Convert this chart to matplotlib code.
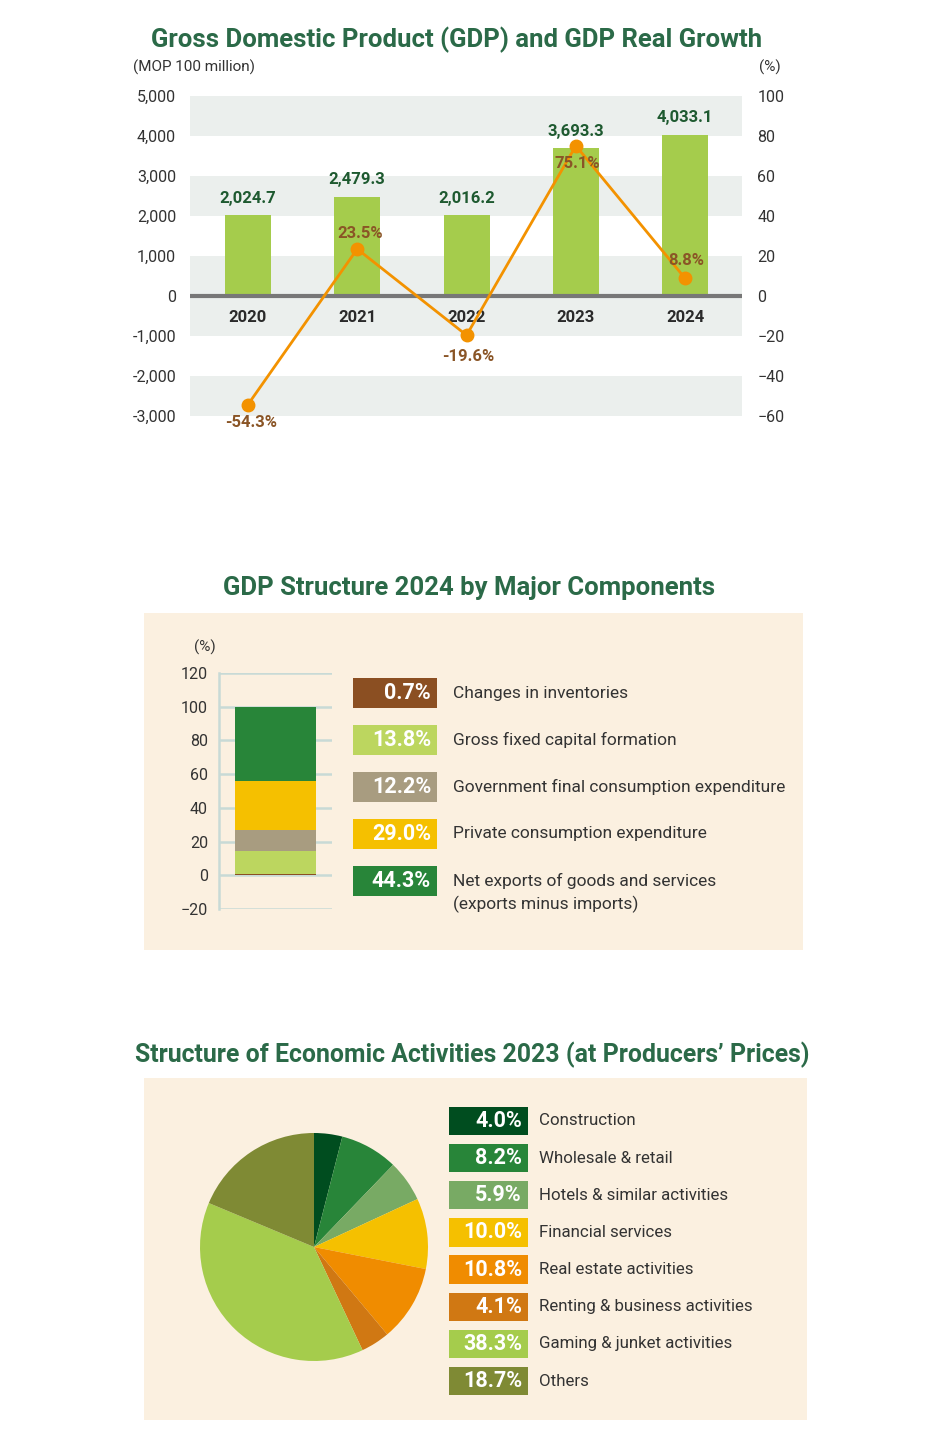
import matplotlib
matplotlib.use("Agg")
import matplotlib.pyplot as plt
from matplotlib.patches import Rectangle
from matplotlib.ticker import FuncFormatter

plt.rcParams['font.family'] = ['Roboto', 'DejaVu Sans']

# ---------------- data ----------------
years = ['2020', '2021', '2022', '2023', '2024']
gdp = [2024.7, 2479.3, 2016.2, 3693.3, 4033.1]
growth = [-54.3, 23.5, -19.6, 75.1, 8.8]
gdp_ticks = [-3000, -2000, -1000, 0, 1000, 2000, 3000, 4000, 5000]
growth_ticks = [-60, -40, -20, 0, 20, 40, 60, 80, 100]

comp_labels = ['Changes in inventories', 'Gross fixed capital formation',
               'Government final consumption expenditure',
               'Private consumption expenditure',
               'Net exports of goods and services\n(exports minus imports)']
comp_values = [0.7, 13.8, 12.2, 29.0, 44.3]
comp_ticks = [-20, 0, 20, 40, 60, 80, 100, 120]

act_labels = ['Construction', 'Wholesale & retail', 'Hotels & similar activities',
              'Financial services', 'Real estate activities',
              'Renting & business activities', 'Gaming & junket activities', 'Others']
act_values = [4.0, 8.2, 5.9, 10.0, 10.8, 4.1, 38.3, 18.7]

# ---------------- style ----------------
W, H = 950, 1431
TITLE_C = '#2b6a48'
TXT = '#333333'
BAR_C = '#a5cc4c'
LINE_C = '#f39200'
VAL_C = '#1e5a30'
PCT_C = '#8a5526'
BAND_C = '#ebefed'
PANEL_C = '#fbf0e0'
GRID2_C = '#c8dad6'
comp_colors = ['#8b4f22', '#bcd65f', '#a89c80', '#f5c000', '#288539']
act_colors = ['#004d1f', '#288539', '#78aa64', '#f5c000', '#f08c00',
              '#d07813', '#a5cc4c', '#7f8a34']

fig = plt.figure(figsize=(W / 100, H / 100), dpi=100)
fig.patch.set_facecolor('white')


def add_ax(x0, y0, x1, y1, **kw):
    return fig.add_axes([x0 / W, 1 - y1 / H, (x1 - x0) / W, (y1 - y0) / H], **kw)


def ftext(x, y, s, **kw):
    return fig.text(x / W, 1 - y / H, s, **kw)


def panel(x0, y0, x1, y1):
    fig.patches.append(Rectangle((x0 / W, 1 - y1 / H), (x1 - x0) / W, (y1 - y0) / H,
                                 transform=fig.transFigure, facecolor=PANEL_C,
                                 edgecolor='none', zorder=-5))


PT = 0.72  # points per pixel

# ================= Chart 1 =================
ftext(457, 40, 'Gross Domestic Product (GDP) and GDP Real Growth', ha='center',
      va='center', fontsize=18.5, fontweight='bold', color=TITLE_C)
ftext(133, 67, '(MOP 100 million)', ha='left', va='center', fontsize=11, color=TXT)
ftext(770, 67, '(%)', ha='center', va='center', fontsize=11, color=TXT)

ax1 = add_ax(190, 96, 742, 416)
ax1.set_xlim(-0.53, 4.52)
ax1.set_ylim(gdp_ticks[0], gdp_ticks[-1])
for lo, hi in [(4000, 5000), (2000, 3000), (-1000, 1000), (-3000, -2000)]:
    ax1.axhspan(lo, hi, color=BAND_C, lw=0, zorder=0)
x = list(range(len(years)))
ax1.bar(x, gdp, width=0.42, color=BAR_C, zorder=2)
ax1.axhline(0, color='#777777', lw=3, zorder=3)
for spine in ax1.spines.values():
    spine.set_visible(False)
ax1.set_xticks([])
ax1.set_yticks(gdp_ticks)
ax1.yaxis.set_major_formatter(FuncFormatter(lambda v, p: f'{int(v):,}'))
ax1.tick_params(axis='y', length=0, pad=10, labelsize=11.5, labelcolor=TXT)
for i, (yr, v) in enumerate(zip(years, gdp)):
    ax1.annotate(yr, (i, 0), xytext=(0, -21 * PT), textcoords='offset points',
                 ha='center', va='center', fontsize=12, fontweight='bold',
                 color='#2a2a2a', zorder=6)
    ax1.annotate(f'{v:,.1f}', (i, v), xytext=(0, 17 * PT), textcoords='offset points',
                 ha='center', va='center', fontsize=12, fontweight='bold',
                 color=VAL_C, zorder=6)

ax1r = ax1.twinx()
ax1r.set_ylim(growth_ticks[0], growth_ticks[-1])
ax1r.set_yticks(growth_ticks)
ax1r.tick_params(axis='y', length=0, pad=11, labelsize=11.5, labelcolor=TXT)
for spine in ax1r.spines.values():
    spine.set_visible(False)
ax1r.plot(x, growth, color=LINE_C, lw=2, marker='o', markersize=9, zorder=5)
pct_off = [(3, -18), (3, 16), (2, -21), (1, -18), (1, 18)]
for i, (g, off) in enumerate(zip(growth, pct_off)):
    ax1r.annotate(f'{g:.1f}%', (i, g), xytext=(off[0] * PT, off[1] * PT),
                  textcoords='offset points', ha='center', va='center',
                  fontsize=12, fontweight='bold', color=PCT_C, zorder=7)

# ================= Chart 2 =================
ftext(469, 588, 'GDP Structure 2024 by Major Components', ha='center', va='center',
      fontsize=18.5, fontweight='bold', color=TITLE_C)
panel(144, 613, 803, 950)
ftext(205, 647, '(%)', ha='center', va='center', fontsize=11, color=TXT)

ax2 = add_ax(219, 673, 332, 909)
ax2.set_facecolor('none')
ax2.set_xlim(0, 1)
ax2.set_ylim(comp_ticks[0], comp_ticks[-1])
for t in comp_ticks:
    ax2.axhline(t, color=GRID2_C, lw=1.8, zorder=1)
for side in ['top', 'right', 'bottom']:
    ax2.spines[side].set_visible(False)
ax2.spines['left'].set_color(GRID2_C)
ax2.spines['left'].set_linewidth(1.8)
ax2.set_xticks([])
ax2.set_yticks(comp_ticks)
ax2.tick_params(axis='y', length=0, pad=8, labelsize=11.5, labelcolor=TXT)
bottom = 0
for v, c in zip(comp_values, comp_colors):
    ax2.bar(0.5, v, bottom=bottom, width=0.717, color=c, zorder=3)
    bottom += v

lg2 = add_ax(353, 670, 800, 904)
lg2.set_xlim(0, 447)
lg2.set_ylim(len(comp_values) - 0.5, -0.5)
lg2.axis('off')
for i, (lab, v, c) in enumerate(zip(comp_labels, comp_values, comp_colors)):
    lg2.add_patch(Rectangle((0, i - 0.32), 84, 0.64, facecolor=c, edgecolor='none'))
    lg2.text(78, i, f'{v:.1f}%', ha='right', va='center', fontsize=15.5,
             fontweight='bold', color='white')
    for k, line in enumerate(lab.split('\n')):
        lg2.text(100, i + k * 0.5, line, ha='left', va='center', fontsize=12.5,
                 color=TXT)

# ================= Chart 3 =================
ftext(472, 1055, 'Structure of Economic Activities 2023 (at Producers\u2019 Prices)',
      ha='center', va='center', fontsize=17.9, fontweight='bold', color=TITLE_C)
panel(144, 1078, 807, 1420)

ax3 = add_ax(200, 1133, 428, 1361)
ax3.pie(act_values, colors=act_colors, startangle=90, counterclock=False,
        radius=1, wedgeprops=dict(linewidth=0))
ax3.set_xlim(-1, 1)
ax3.set_ylim(-1, 1)
ax3.set_aspect('equal')
ax3.axis('off')

lg3 = add_ax(449, 1102.4, 800, 1399.6)
lg3.set_xlim(0, 351)
lg3.set_ylim(len(act_values) - 0.5, -0.5)
lg3.axis('off')
for i, (lab, v, c) in enumerate(zip(act_labels, act_values, act_colors)):
    lg3.add_patch(Rectangle((0, i - 0.38), 79, 0.76, facecolor=c, edgecolor='none'))
    lg3.text(73, i, f'{v:.1f}%', ha='right', va='center', fontsize=15.5,
             fontweight='bold', color='white')
    lg3.text(90, i, lab, ha='left', va='center', fontsize=12.2, color=TXT)

fig.savefig('out.png', dpi=100, facecolor='white')
